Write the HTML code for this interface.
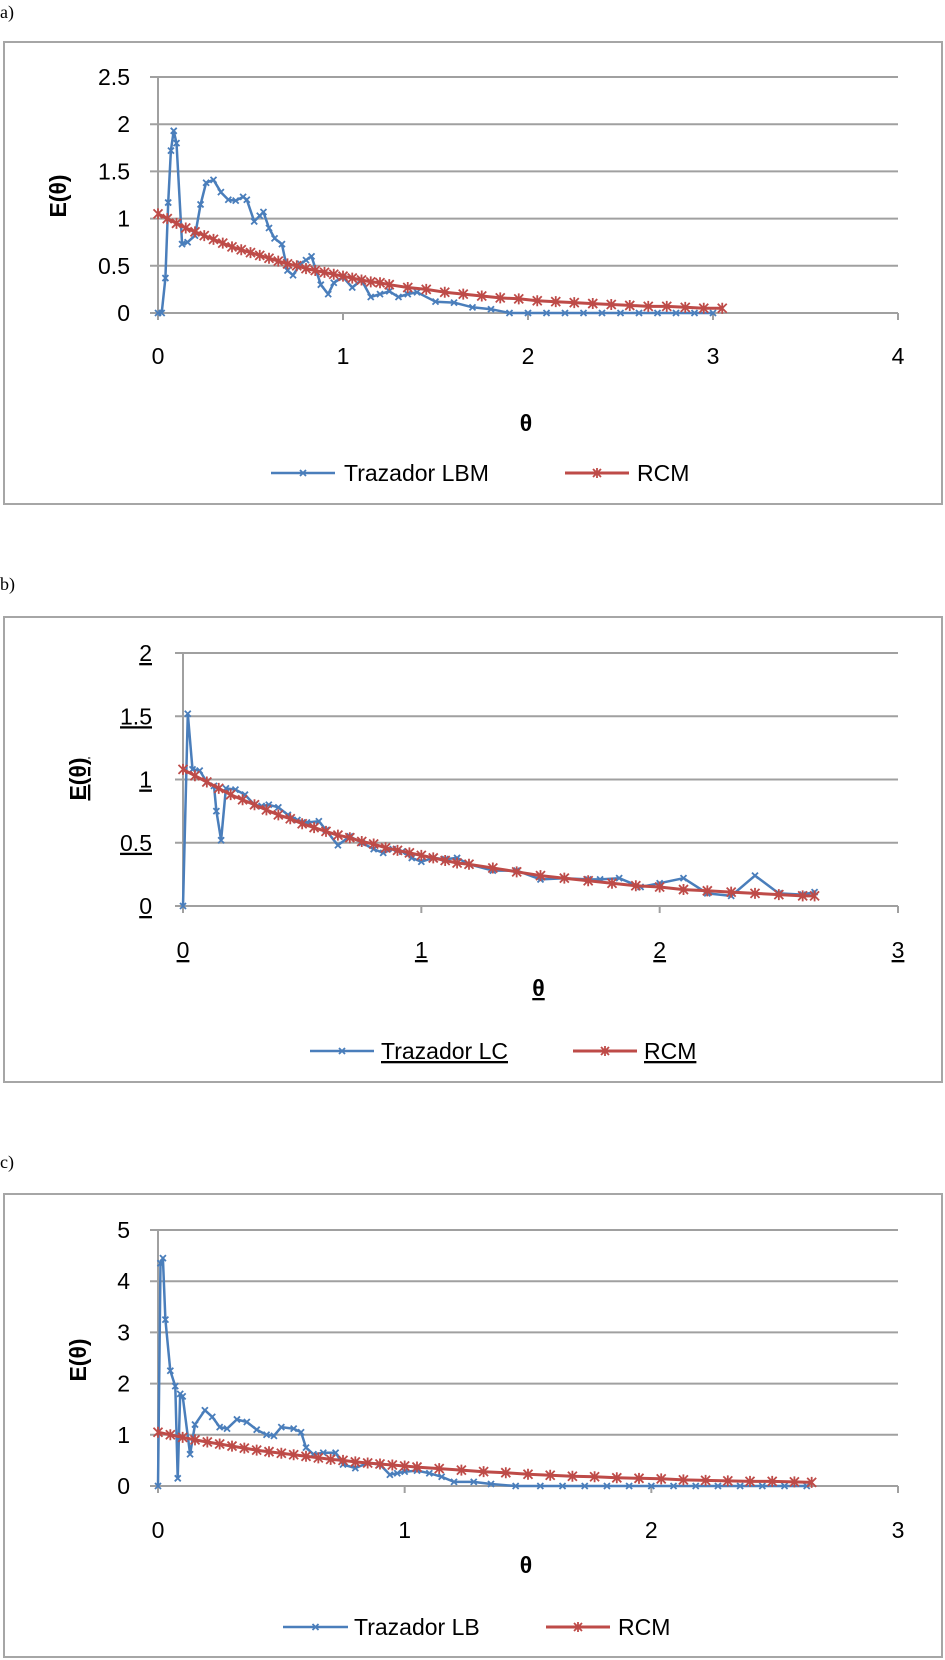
<!DOCTYPE html>
<html><head><meta charset="utf-8"><style>
body{margin:0;background:#fff;}
svg{display:block;font-family:"Liberation Sans",sans-serif;}
</style></head><body>
<svg id="s" width="945" height="1660" viewBox="0 0 945 1660">
<text x="0" y="18" font-family="Liberation Serif" font-size="18">a)</text>
<text x="0" y="590" font-family="Liberation Serif" font-size="18">b)</text>
<text x="0" y="1168" font-family="Liberation Serif" font-size="18">c)</text>
</svg>
<script>
// Chart a data
const aBlueX=[0,0.02,0.04,0.055,0.07,0.085,0.1,0.13,0.16,0.2,0.23,0.26,0.3,0.34,0.38,0.42,0.46,0.48,0.52,0.55,0.57,0.6,0.63,0.67,0.7,0.73,0.77,0.8,0.83,0.88,0.92,0.95,1.0,1.05,1.1,1.15,1.2,1.25,1.3,1.35,1.4,1.5,1.6,1.7,1.8,1.9,2.0,2.1,2.2,2.3,2.4,2.5,2.6,2.7,2.8,2.9,3.0];
const aBlueY=[0,0,0.37,1.17,1.72,1.93,1.8,0.73,0.75,0.82,1.15,1.38,1.41,1.28,1.2,1.19,1.23,1.2,0.97,1.03,1.07,0.9,0.79,0.73,0.45,0.4,0.52,0.56,0.6,0.3,0.2,0.32,0.38,0.27,0.35,0.17,0.2,0.23,0.17,0.2,0.22,0.12,0.11,0.06,0.04,0,0,0,0,0,0,0,0,0,0,0,0];
const aRedX=[0,0.05,0.1,0.15,0.2,0.25,0.3,0.35,0.4,0.45,0.5,0.55,0.6,0.65,0.7,0.75,0.8,0.85,0.9,0.95,1.0,1.05,1.1,1.15,1.2,1.25,1.35,1.45,1.55,1.65,1.75,1.85,1.95,2.05,2.15,2.25,2.35,2.45,2.55,2.65,2.75,2.85,2.95,3.05];
const aRedY=[1.05,1.0,0.95,0.9,0.86,0.82,0.78,0.74,0.7,0.67,0.64,0.61,0.58,0.55,0.52,0.5,0.47,0.45,0.43,0.41,0.39,0.37,0.35,0.33,0.32,0.3,0.27,0.25,0.22,0.2,0.18,0.16,0.15,0.13,0.12,0.11,0.1,0.09,0.08,0.07,0.07,0.06,0.05,0.05];
const aXTicks=["0","1","2","3","4"];
const aYTicks=["0","0.5","1","1.5","2","2.5"];
// Chart b data
const bBlueX=[0,0.02,0.04,0.07,0.1,0.13,0.14,0.16,0.18,0.22,0.26,0.3,0.33,0.36,0.4,0.44,0.48,0.52,0.57,0.6,0.65,0.7,0.75,0.8,0.84,0.88,0.92,0.96,1.0,1.05,1.1,1.15,1.2,1.3,1.4,1.5,1.6,1.7,1.75,1.83,1.92,2.0,2.1,2.2,2.3,2.4,2.5,2.6,2.65];
const bBlueY=[0,1.52,1.08,1.07,0.98,0.95,0.75,0.52,0.93,0.92,0.88,0.8,0.79,0.8,0.78,0.72,0.68,0.66,0.67,0.6,0.48,0.55,0.5,0.45,0.42,0.45,0.43,0.38,0.35,0.38,0.37,0.38,0.33,0.28,0.28,0.21,0.22,0.21,0.21,0.22,0.15,0.18,0.22,0.1,0.08,0.24,0.1,0.09,0.11];
const bRedX=[0,0.05,0.1,0.15,0.2,0.25,0.3,0.35,0.4,0.45,0.5,0.55,0.6,0.65,0.7,0.75,0.8,0.85,0.9,0.95,1.0,1.05,1.1,1.15,1.2,1.3,1.4,1.5,1.6,1.7,1.8,1.9,2.0,2.1,2.2,2.3,2.4,2.5,2.6,2.65];
const bRedY=[1.08,1.03,0.98,0.93,0.88,0.84,0.8,0.76,0.72,0.69,0.65,0.62,0.59,0.56,0.54,0.51,0.49,0.46,0.44,0.42,0.4,0.38,0.36,0.34,0.33,0.3,0.27,0.24,0.22,0.2,0.18,0.16,0.15,0.13,0.12,0.11,0.1,0.09,0.08,0.08];
const bXTicks=["0","1","2","3"];
const bYTicks=["0","0.5","1","1.5","2"];
// Chart c data
const cBlueX=[0,0.01,0.02,0.03,0.05,0.07,0.08,0.09,0.1,0.13,0.15,0.19,0.22,0.25,0.28,0.32,0.36,0.4,0.44,0.47,0.5,0.55,0.58,0.6,0.63,0.67,0.72,0.75,0.8,0.85,0.9,0.94,0.97,1.0,1.05,1.1,1.15,1.2,1.28,1.35,1.45,1.55,1.64,1.73,1.82,1.91,2.0,2.09,2.18,2.27,2.36,2.45,2.54,2.63];
const cBlueY=[0,4.35,4.45,3.25,2.25,1.95,0.15,1.8,1.75,0.62,1.2,1.48,1.35,1.15,1.12,1.3,1.25,1.1,1.0,0.98,1.15,1.12,1.05,0.75,0.62,0.65,0.65,0.42,0.35,0.45,0.42,0.22,0.25,0.28,0.3,0.25,0.18,0.08,0.08,0.04,0,0,0,0,0,0,0,0,0,0,0,0,0,0];
const cRedX=[0,0.05,0.1,0.15,0.2,0.25,0.3,0.35,0.4,0.45,0.5,0.55,0.6,0.65,0.7,0.75,0.8,0.85,0.9,0.95,1.0,1.05,1.14,1.23,1.32,1.41,1.5,1.59,1.68,1.77,1.86,1.95,2.04,2.13,2.22,2.31,2.4,2.49,2.58,2.65];
const cRedY=[1.05,1.0,0.95,0.9,0.86,0.82,0.78,0.74,0.7,0.67,0.64,0.61,0.58,0.55,0.52,0.5,0.47,0.45,0.43,0.41,0.39,0.37,0.34,0.31,0.28,0.26,0.23,0.21,0.19,0.18,0.16,0.15,0.14,0.12,0.11,0.1,0.09,0.09,0.08,0.07];
const cXTicks=["0","1","2","3"];
const cYTicks=["0","1","2","3","4","5"];

const NS="http://www.w3.org/2000/svg";
const svg=document.getElementById('s');
function mk(tag,attrs,parent){const e=document.createElementNS(NS,tag);for(const k in attrs)e.setAttribute(k,attrs[k]);(parent||svg).appendChild(e);return e;}

function chart(c){
  const g=mk('g',{});
  
  
  const box=mk('rect',{x:4,y:c.boxTop,width:938,height:c.boxH,fill:'none',stroke:'#a6a6a6','stroke-width':2},g);
  
  
  const xmax=+c.xt[c.xt.length-1], ymax=+c.yt[c.yt.length-1];
  const sx=v=>c.x0+(c.x1-c.x0)*v/xmax;
  const sy=v=>c.y0-(c.y0-c.y1)*v/ymax;
  const deco=c.ul?'underline':'none';
  c.yt.forEach(t=>{
    const y=sy(+t);
    const ln=mk('line',{x1:c.x0-8,x2:c.x1,y1:y,y2:y,stroke:'#a0a0a0','stroke-width':2},g);
    
    
    const tx=mk('text',{x:c.ylabR,y:y+8,'font-size':23,'text-anchor':'end','text-decoration':deco},g);
    tx.textContent=t;
    
    
  });
  const ax=mk('line',{x1:c.x0,x2:c.x0,y1:c.y1,y2:c.y0+6,stroke:'#a0a0a0','stroke-width':2},g);
  
  
  c.xt.forEach(t=>{
    const x=sx(+t);
    const tk=mk('line',{x1:x,x2:x,y1:c.y0,y2:c.y0+7,stroke:'#a0a0a0','stroke-width':2},g);
    
    
    const tx=mk('text',{x:x,y:c.xlabY,'font-size':23,'text-anchor':'middle','text-decoration':deco},g);
    tx.textContent=t;
    
    
  });
  const xt=mk('text',{x:(c.x0+c.x1)/2-2,y:c.xtitleY,'font-size':23,'font-weight':'bold','text-anchor':'middle','text-decoration':deco},g);
  xt.textContent='θ';
  
  
  const yt=mk('text',{x:0,y:0,'font-size':23,'font-weight':'bold','text-anchor':'middle','text-decoration':deco,transform:`translate(${c.ytitleX},${c.ytitleY}) rotate(-90)`},g);
  yt.textContent='E(θ)';
  
  
  function series(xs,ys,col,w,ms,name){
    const sg=mk('g',{},g);
    
    
    const d=xs.map((x,i)=>(i?'L':'M')+sx(x).toFixed(1)+','+sy(ys[i]).toFixed(1)).join('');
    mk('path',{d:d,fill:'none',stroke:col,'stroke-width':w,'stroke-linejoin':'round'},sg);
    xs.forEach((x,i)=>{
      const X=sx(x),Y=sy(ys[i]);
      const m=mk('path',{d:`M${X-ms},${Y-ms}L${X+ms},${Y+ms}M${X-ms},${Y+ms}L${X+ms},${Y-ms}`+(ms>3?`M${X},${Y-ms-1}L${X},${Y+ms+1}`:''),stroke:col,'stroke-width':1.8},sg);
      
      
    });
  }
  series(c.bx,c.by,'#4a7ebb',2.5,3,'series-trazador');
  series(c.rx,c.ry,'#be4b48',3,4.5,'series-rcm');
  // legend
  const lg=mk('g',{},g);
  
  
  const L=c.leg, ly=c.legY;
  mk('line',{x1:L[0],x2:L[1],y1:ly,y2:ly,stroke:'#4a7ebb','stroke-width':2.5},lg);
  const mb=(L[0]+L[1])/2;
  mk('path',{d:`M${mb-3},${ly-3}L${mb+3},${ly+3}M${mb-3},${ly+3}L${mb+3},${ly-3}`,stroke:'#4a7ebb','stroke-width':1.8},lg);
  const t1=mk('text',{x:L[2],y:ly+8,'font-size':23,'text-decoration':deco},lg);
  t1.textContent=c.legName;
  
  
  mk('line',{x1:L[3],x2:L[4],y1:ly,y2:ly,stroke:'#be4b48','stroke-width':3},lg);
  const mr=(L[3]+L[4])/2;
  mk('path',{d:`M${mr-4},${ly-4}L${mr+4},${ly+4}M${mr-4},${ly+4}L${mr+4},${ly-4}M${mr},${ly-5}L${mr},${ly+5}`,stroke:'#be4b48','stroke-width':1.8},lg);
  const t2=mk('text',{x:L[5],y:ly+8,'font-size':23,'text-decoration':deco},lg);
  t2.textContent='RCM';
  
  
}
chart({name:'chart-a',boxTop:42,boxH:462,x0:158,x1:898,y0:313,y1:77,xt:aXTicks,yt:aYTicks,ylabR:130,xlabY:364,xtitleY:431,ytitleX:66,ytitleY:196,
  bx:aBlueX,by:aBlueY,rx:aRedX,ry:aRedY,leg:[271,335,344,565,629,637],legY:473,legName:'Trazador LBM',ul:false});
chart({name:'chart-b',boxTop:617,boxH:465,x0:183,x1:898,y0:906,y1:653,xt:bXTicks,yt:bYTicks,ylabR:152,xlabY:958,xtitleY:996,ytitleX:86,ytitleY:779,
  bx:bBlueX,by:bBlueY,rx:bRedX,ry:bRedY,leg:[310,374,381,573,637,644],legY:1051,legName:'Trazador LC',ul:true});
chart({name:'chart-c',boxTop:1194,boxH:463,x0:158,x1:898,y0:1486,y1:1230,xt:cXTicks,yt:cYTicks,ylabR:130,xlabY:1538,xtitleY:1573,ytitleX:86,ytitleY:1360,
  bx:cBlueX,by:cBlueY,rx:cRedX,ry:cRedY,leg:[283,348,354,546,610,618],legY:1627,legName:'Trazador LB',ul:false});
</script>
</body></html>
